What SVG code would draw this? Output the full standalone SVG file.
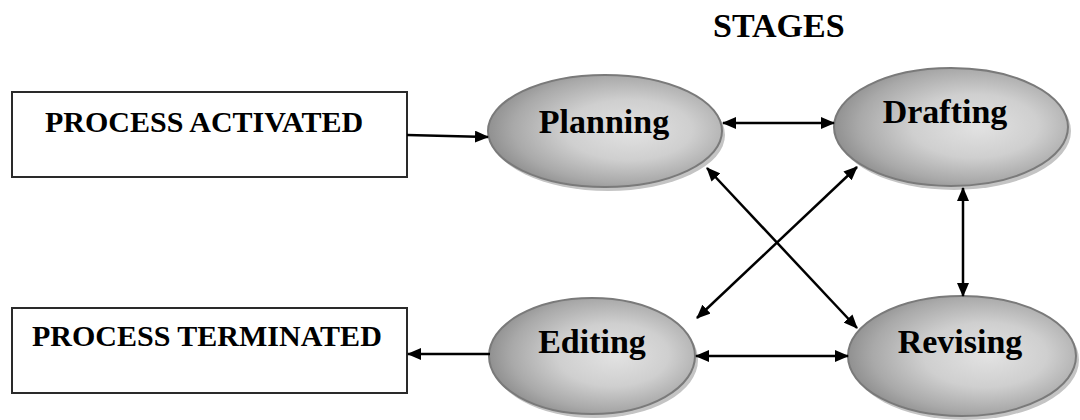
<svg xmlns="http://www.w3.org/2000/svg" width="1080" height="420" viewBox="0 0 1080 420">
  <style>
    .box { fill: #ffffff; stroke: #2a2a2a; stroke-width: 2; }
    .boxtxt { font-family: "Liberation Serif", "Times New Roman", serif; font-weight: bold; font-size: 30px; fill: #000; }
    .title { font-family: "Liberation Serif", "Times New Roman", serif; font-weight: bold; font-size: 34px; fill: #000; }
    .node { fill: url(#grey); stroke: #7a7a7a; stroke-width: 2; }
    .shadow { fill: #c4c4c4; }
    .ntxt { font-family: "Liberation Serif", "Times New Roman", serif; font-weight: bold; font-size: 34px; fill: #000; text-anchor: middle; }
    .conn { stroke: #000; stroke-width: 2.5; fill: none; }
  </style>
  <defs>
    <radialGradient id="grey" cx="0.58" cy="0.48" r="0.6" fx="0.62" fy="0.5">
      <stop offset="0" stop-color="#e2e2e2"/>
      <stop offset="0.45" stop-color="#cfcfcf"/>
      <stop offset="0.8" stop-color="#a9a9a9"/>
      <stop offset="1" stop-color="#8c8c8c"/>
    </radialGradient>
    <marker id="ah" viewBox="0 0 14 12" refX="13" refY="6" markerWidth="14" markerHeight="12" markerUnits="userSpaceOnUse" orient="auto-start-reverse">
      <path d="M0,0 L14,6 L0,12 Z" fill="#000"/>
    </marker>
  </defs>
  <rect width="1080" height="420" fill="#ffffff"/>

  <text class="title" x="713" y="37">STAGES</text>

  <g id="process-activated">
    <rect class="box" x="12" y="92" width="395" height="85"/>
    <text class="boxtxt" x="45" y="132">PROCESS ACTIVATED</text>
  </g>
  <g id="process-terminated">
    <rect class="box" x="12" y="308" width="395" height="85"/>
    <text class="boxtxt" x="32" y="346">PROCESS TERMINATED</text>
  </g>

  <g id="planning">
    <ellipse class="shadow" cx="608" cy="135" rx="117" ry="56"/>
    <ellipse class="node" cx="605" cy="131" rx="117" ry="56"/>
    <text class="ntxt" x="604" y="133">Planning</text>
  </g>
  <g id="drafting">
    <ellipse class="shadow" cx="954" cy="131" rx="117" ry="59"/>
    <ellipse class="node" cx="951" cy="127" rx="117" ry="59"/>
    <text class="ntxt" x="945" y="123">Drafting</text>
  </g>
  <g id="editing">
    <ellipse class="shadow" cx="595" cy="360" rx="103" ry="58"/>
    <ellipse class="node" cx="592" cy="356" rx="103" ry="58"/>
    <text class="ntxt" x="592" y="353">Editing</text>
  </g>
  <g id="revising">
    <ellipse class="shadow" cx="965" cy="360" rx="114" ry="60"/>
    <ellipse class="node" cx="962" cy="356" rx="114" ry="60"/>
    <text class="ntxt" x="960" y="353">Revising</text>
  </g>

  <g id="connectors">
    <line class="conn" x1="407" y1="135" x2="488" y2="137" marker-end="url(#ah)"/>
    <line class="conn" x1="490" y1="354" x2="408" y2="354" marker-end="url(#ah)"/>
    <line class="conn" x1="723" y1="123" x2="834" y2="123" marker-start="url(#ah)" marker-end="url(#ah)"/>
    <line class="conn" x1="696" y1="356" x2="848" y2="356" marker-start="url(#ah)" marker-end="url(#ah)"/>
    <line class="conn" x1="963" y1="188" x2="963" y2="296" marker-start="url(#ah)" marker-end="url(#ah)"/>
    <line class="conn" x1="707" y1="168" x2="857" y2="328" marker-start="url(#ah)" marker-end="url(#ah)"/>
    <line class="conn" x1="857" y1="167" x2="697" y2="318" marker-start="url(#ah)" marker-end="url(#ah)"/>
  </g>
</svg>
